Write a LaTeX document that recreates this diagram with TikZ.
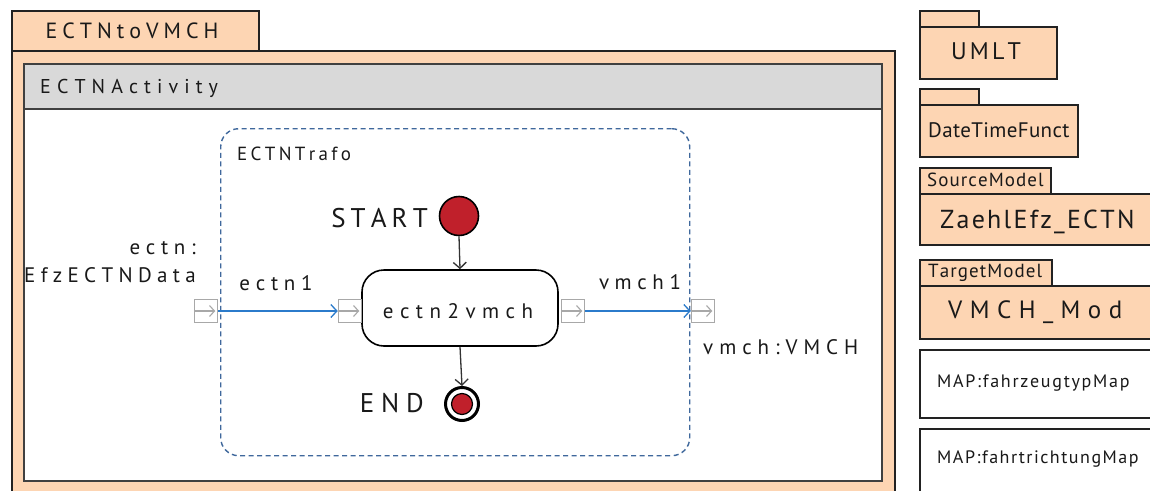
\documentclass[tikz,border=0pt]{standalone}
\usepackage{fontspec}
\setmainfont{PT Sans}
\usetikzlibrary{arrows.meta}
\definecolor{pkg}{HTML}{FDD5B3}
\definecolor{hdr}{HTML}{D9D9D9}
\definecolor{dashblue}{HTML}{3F689C}
\definecolor{flowblue}{HTML}{2B7BCB}
\definecolor{nodered}{HTML}{C0202B}
\definecolor{pingray}{HTML}{A8A8A8}
\definecolor{edgecol}{HTML}{222222}
\ExplSyntaxOn
\NewDocumentCommand\lsp{m m}{
  \hbox_set:Nn \l_tmpa_box {#2}
  \int_set:Nn \l_tmpa_int {\tl_count:n {#2} - 1}
  \int_compare:nNnT {\l_tmpa_int} < {1} {\int_set:Nn \l_tmpa_int {1}}
  \dim_set:Nn \l_tmpa_dim {(\dim_eval:n {#1} - \box_wd:N \l_tmpa_box) / \l_tmpa_int}
  \bool_set_true:N \l_tmpa_bool
  \tl_map_inline:nn {#2} {\bool_if:NTF \l_tmpa_bool {\bool_set_false:N \l_tmpa_bool} {\kern\l_tmpa_dim} ##1}
}
\ExplSyntaxOff
\newcommand\fs[1]{\fontsize{#1}{#1}\selectfont}
\tikzset{
  pkgbox/.style={draw=edgecol, line width=1.8pt, fill=pkg, inner sep=0pt, anchor=north west},
  whitebox/.style={draw=edgecol, line width=1.8pt, fill=white, inner sep=0pt, anchor=north west},
  txt/.style={inner sep=0pt, text=black!90},
  pin/.style={draw=pingray, line width=1.5pt, fill=white, minimum size=23pt, inner sep=0pt},
  pinarrow/.style={draw=pingray, line width=1.1pt, -{Straight Barb[length=5pt,width=11pt]}},
  flow/.style={draw=flowblue, line width=1.3pt, -{Straight Barb[length=6pt,width=13pt]}},
  ctrl/.style={draw=black!80, line width=1.3pt, -{Straight Barb[length=6pt,width=13pt]}},
}
\begin{document}
\begin{tikzpicture}[x=1pt,y=-1pt]
\useasboundingbox (0,0) rectangle (1150,490);
\clip (0,0) rectangle (1150,490);
% outer package ECTNtoVMCH
\node[pkgbox, minimum width=247pt, minimum height=40pt] (tab) at (11,10) {};
\node[pkgbox, minimum width=883pt, minimum height=460pt] (outer) at (11,50) {};
\node[txt, anchor=base] (tabtxt) at (132,38) {\fs{22}\lsp{172pt}{ECTNtoVMCH}};
% activity frame
\node[whitebox, draw=black!75, line width=1.6pt, minimum width=858pt, minimum height=417pt] (frame) at (23,63) {};
\node[whitebox, draw=black!75, line width=1.6pt, fill=hdr, minimum width=858pt, minimum height=45pt] (header) at (23,63) {};
\node[txt, anchor=base west] (acttxt) at (40,93) {\fs{20}\lsp{177pt}{ECTNActivity}};
% dashed region
\node[draw=dashblue, line width=1.4pt, dash pattern=on 5pt off 3.5pt, rounded corners=18pt, minimum width=469pt, minimum height=327pt, anchor=north west, inner sep=0pt] (trafo) at (220,128) {};
\node[txt, anchor=base west] (trafotxt) at (237,160) {\fs{19}\lsp{111pt}{ECTNTrafo}};
% start / action / end
\node[circle, draw=black, line width=1.6pt, fill=nodered, minimum size=39pt, inner sep=0pt] (start) at (459,216) {};
\node[txt, anchor=base east] (starttxt) at (428,227) {\fs{27}\lsp{93pt}{START}};
\node[draw=black, line width=1.6pt, fill=white, rounded corners=22pt, minimum width=196pt, minimum height=76pt, inner sep=0pt] (act) at (460,308) {};
\node[txt, anchor=base] (acttext) at (458,318) {\fs{21}\lsp{150pt}{ectn2vmch}};
\node[circle, draw=black, line width=3pt, fill=white, minimum size=33pt, inner sep=0pt] (endo) at (462,404) {};
\node[circle, draw=black, line width=1.2pt, fill=nodered, minimum size=21pt, inner sep=0pt] (endi) at (462,404) {};
\node[txt, anchor=base east] (endtxt) at (424,412) {\fs{27}\lsp{64pt}{END}};
\draw[ctrl] (start.south) -- (act.north);
\draw[ctrl] (act.south) -- (endo.north);
% pins
\node[pin] (p1) at (206,311) {};
\node[pin] (p2) at (350,311) {};
\node[pin] (p3) at (573,311) {};
\node[pin] (p4) at (703,311) {};
\foreach \p in {p1,p2,p3,p4}{
  \draw[pinarrow] (\p.west) -- ([xshift=-3pt]\p.east);
}
\draw[flow] (p1.east) -- (p2.west);
\draw[flow] (p3.east) -- (p4.west);
\node[txt, anchor=base] (l1) at (276,290) {\fs{21}\lsp{73pt}{ectn1}};
\node[txt, anchor=base] (l2) at (640,289) {\fs{21}\lsp{82pt}{vmch1}};
\node[txt, anchor=base east] (l3) at (196,254) {\fs{21}\lsp{66pt}{ectn:}};
\node[txt, anchor=base east] (l4) at (196,282) {\fs{21}\lsp{171pt}{EfzECTNData}};
\node[txt, anchor=base west] (l5) at (703,354) {\fs{21}\lsp{155pt}{vmch:VMCH}};
% right side packages
\node[pkgbox, minimum width=59pt, minimum height=16pt] (t1) at (919,10) {};
\node[pkgbox, minimum width=137pt, minimum height=52pt] (b1) at (919,26) {};
\node[txt, anchor=base] (b1t) at (986,59) {\fs{24}\lsp{67pt}{UMLT}};
\node[pkgbox, minimum width=59pt, minimum height=16pt] (t2) at (919,88) {};
\node[pkgbox, minimum width=158pt, minimum height=52pt] (b2) at (919,104) {};
\node[txt, anchor=base west] (b2t) at (928,137) {\fs{21}\lsp{141pt}{DateTimeFunct}};
\node[pkgbox, minimum width=131pt, minimum height=26pt] (t3) at (919,167) {};
\node[txt, anchor=base west] (t3t) at (927,186) {\fs{19}\lsp{116pt}{SourceModel}};
\node[pkgbox, minimum width=250pt, minimum height=51pt] (b3) at (919,193) {};
\node[txt, anchor=base west] (b3t) at (940,228) {\fs{26}\lsp{193pt}{ZaehlEfz\_ECTN}};
\node[pkgbox, minimum width=132pt, minimum height=26pt] (t4) at (919,259) {};
\node[txt, anchor=base west] (t4t) at (928,277) {\fs{19}\lsp{112pt}{TargetModel}};
\node[pkgbox, minimum width=250pt, minimum height=53pt] (b4) at (919,285) {};
\node[txt, anchor=base west] (b4t) at (948,318) {\fs{25}\lsp{174pt}{VMCH\_Mod}};
\node[whitebox, minimum width=250pt, minimum height=68pt] (m1) at (919,349) {};
\node[txt, anchor=base west] (m1t) at (937,387) {\fs{18}\lsp{192pt}{MAP:fahrzeugtypMap}};
\node[whitebox, minimum width=250pt, minimum height=80pt] (m2) at (919,428) {};
\node[txt, anchor=base west] (m2t) at (937,463) {\fs{18}\lsp{202pt}{MAP:fahrtrichtungMap}};
\end{tikzpicture}
\end{document}
